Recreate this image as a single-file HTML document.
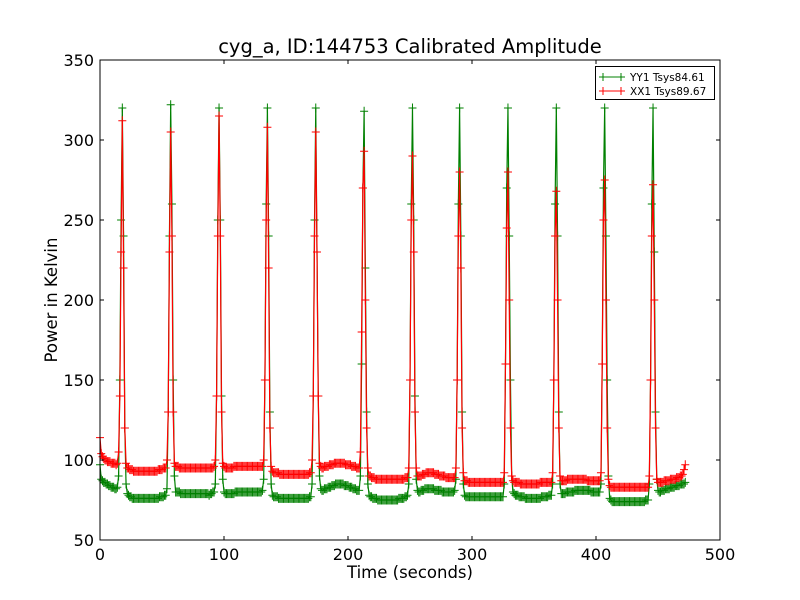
<!DOCTYPE html>
<html><head><meta charset="utf-8"><style>
html,body{margin:0;padding:0;background:#fff;}
svg{display:block;font-family:"DejaVu Sans","Liberation Sans",sans-serif;}
</style></head><body>
<svg id="chart" width="800" height="600" viewBox="0 0 800 600">
<rect width="800" height="600" fill="#fff"/>
<text x="410" y="53" font-size="19.5" text-anchor="middle">cyg_a, ID:144753 Calibrated Amplitude</text>
<g id="plot"></g>
<text x="410" y="578" font-size="16.5" text-anchor="middle">Time (seconds)</text>
<text x="57" y="300" font-size="16.5" text-anchor="middle" transform="rotate(-90 57 300)">Power in Kelvin</text>
</svg>
<script>
const xTicks=[0,100,200,300,400,500];
const yTicks=[50,100,150,200,250,300,350];
const yy1=[97,88,87,86,86,85,85,84,84,83,83,83,82,82,83,
90,150,250,320,240,120,85,79,
78,77,77,76,76,76,76,76,76,76,76,76,76,76,76,76,76,76,76,76,76,76,76,76,76,77,77,77,77,78,78,
82,130,240,322,260,150,90,80,
80,80,80,79,79,79,79,79,79,79,79,79,79,79,79,79,79,79,79,79,79,79,79,79,79,79,78,79,79,80,80,
85,140,250,320,250,140,88,80,
79,79,79,79,79,79,79,79,80,80,80,80,80,80,80,80,80,80,80,80,80,80,80,80,80,80,80,80,80,80,81,
88,150,260,320,240,130,85,78,
77,77,77,77,76,76,76,76,76,76,76,76,76,76,76,76,76,76,76,76,76,76,76,76,76,76,76,76,76,77,77,
85,140,250,320,230,140,90,82,
81,81,82,82,82,83,83,83,84,84,84,85,85,85,85,85,85,85,84,84,84,84,83,83,83,82,82,82,81,81,81,
90,160,270,318,220,130,85,78,
77,77,76,76,76,76,75,75,75,75,75,75,75,75,75,75,75,75,75,75,75,75,75,76,76,76,76,76,77,77,78,
85,150,260,320,250,140,88,81,
80,80,81,81,81,82,82,82,82,82,82,82,82,81,81,81,81,81,81,80,80,80,80,80,80,80,80,80,80,81,
88,150,260,320,240,130,85,78,
77,77,77,77,77,77,77,77,77,77,77,77,77,77,77,77,77,77,77,77,77,77,77,77,77,77,77,77,77,77,77,
85,160,270,320,240,150,90,80,
79,78,78,78,77,77,77,77,77,76,76,76,76,76,76,76,76,76,76,76,76,76,77,77,77,77,77,77,78,78,78,
85,150,260,320,240,130,85,79,
79,79,79,80,80,80,80,80,80,80,81,81,81,81,81,81,81,81,81,81,81,81,81,80,80,80,80,80,80,80,80,
85,160,270,320,240,150,90,76,
75,74,74,74,74,74,74,74,74,74,74,74,74,74,74,74,74,74,74,74,74,74,74,74,74,74,74,74,75,75,75,
85,150,260,320,230,130,88,81,
80,80,81,81,81,82,82,82,82,83,83,83,83,84,84,84,84,85,85,85,85,86];
const xx1=[114,104,102,101,100,100,99,99,99,98,98,98,98,97,98,
105,140,230,312,220,120,98,95,
95,94,94,94,93,93,93,93,93,93,93,93,93,93,93,93,93,93,93,93,93,93,93,93,94,94,94,94,95,95,95,
100,130,230,305,240,130,98,96,
96,96,95,95,95,95,95,95,95,95,95,95,95,95,95,95,95,95,95,95,95,95,95,95,95,95,95,95,95,95,96,
100,140,240,315,240,130,98,96,
95,95,95,95,95,95,95,96,96,96,96,96,96,96,96,96,96,96,96,96,96,96,96,96,96,96,96,96,96,96,96,
100,150,250,308,220,120,96,93,
92,92,92,92,92,91,91,91,91,91,91,91,91,91,91,91,91,91,91,91,91,91,91,91,91,91,91,91,91,92,92,
100,140,240,305,230,140,98,96,
95,95,96,96,96,96,97,97,97,97,98,98,98,98,98,98,98,98,98,97,97,97,97,97,96,96,96,96,95,95,95,
105,180,270,293,200,120,95,90,
90,89,89,89,88,88,88,88,88,88,88,88,88,88,88,88,88,88,88,88,88,88,88,88,88,88,88,88,89,89,89,
95,150,250,290,230,130,95,90,
90,90,90,91,91,91,92,92,92,92,92,92,92,91,91,91,91,90,90,90,90,90,89,89,89,89,89,89,89,89,
95,150,240,280,220,120,92,87,
87,87,86,86,86,86,86,86,86,86,86,86,86,86,86,86,86,86,86,86,86,86,86,86,86,86,86,86,86,86,86,
92,160,245,280,200,120,90,87,
86,86,86,86,86,85,85,85,85,85,85,85,85,85,85,85,85,85,85,85,85,86,86,86,86,86,86,86,86,86,86,
92,150,240,268,200,120,90,87,
87,87,87,87,88,88,88,88,88,88,88,88,88,88,88,88,88,88,88,88,87,87,87,87,87,87,87,87,87,87,87,
92,160,250,275,200,120,88,84,
83,83,83,83,83,83,83,83,83,83,83,83,83,83,83,83,83,83,83,83,83,83,83,83,83,83,83,83,83,83,83,
90,150,240,272,200,120,88,86,
86,86,86,86,87,87,87,87,87,88,88,88,88,88,89,89,89,90,90,91,94,97];
const times=yy1.map((v,i)=>i);

const NS="http://www.w3.org/2000/svg";
const L=100,R=720,T=60,B=540;
const xS=v=>L+(v-0)/(500-0)*(R-L);
const yS=v=>B-(v-50)/(350-50)*(B-T);
const plot=document.getElementById('plot');
function mk(tag,attrs,parent){const e=document.createElementNS(NS,tag);for(const k in attrs)e.setAttribute(k,attrs[k]);(parent||plot).appendChild(e);return e;}

function series(vals,color,name){
  const g=mk('g',{});
  
  
  let d='',m='';
  vals.forEach((v,i)=>{const x=xS(times[i]),y=yS(v);d+=(i?'L':'M')+x.toFixed(2)+' '+y.toFixed(2);m+='M'+(x-4).toFixed(2)+' '+y.toFixed(2)+'h8M'+x.toFixed(2)+' '+(y-4.5).toFixed(2)+'v9';});
  const ln=mk('path',{d:d,fill:'none',stroke:color,'stroke-width':1.2},g);
  
  
  const mp=mk('path',{d:m,fill:'none',stroke:color,'stroke-width':1},g);
  
  
}
series(yy1,'#008000','series-yy1');
series(xx1,'#ff0000','series-xx1');

const fr=mk('rect',{x:L,y:T,width:R-L,height:B-T,fill:'none',stroke:'#000','stroke-width':1});


xTicks.forEach(t=>{const x=xS(t);
  mk('path',{d:`M${x} ${B}v-4M${x} ${T}v4`,stroke:'#000','stroke-width':1});
  const tx=mk('text',{x:x,y:B+20,'font-size':16,'text-anchor':'middle'});tx.textContent=t;
  
  
});
yTicks.forEach(t=>{const y=yS(t);
  mk('path',{d:`M${L} ${y}h4M${R} ${y}h-4`,stroke:'#000','stroke-width':1});
  const tx=mk('text',{x:L-6,y:y+6,'font-size':16,'text-anchor':'end'});tx.textContent=t;
  
  
});

const lg=mk('g',{});


mk('rect',{x:595.5,y:66.5,width:119,height:33,fill:'#fff',stroke:'#000','stroke-width':1},lg);
[['YY1 Tsys84.61','#008000',77],['XX1 Tsys89.67','#ff0000',91]].forEach(([lab,c,y])=>{
  const e=mk('g',{},lg);
  
  
  mk('path',{d:`M599 ${y}h26M603 ${y}h8M603 ${y-4}v8M621 ${y-4}v8`,stroke:c,'stroke-width':1,fill:'none'},e);
  const t=mk('text',{x:630,y:y+4,'font-size':10.5},e);t.textContent=lab;
});
</script>
</body></html>
